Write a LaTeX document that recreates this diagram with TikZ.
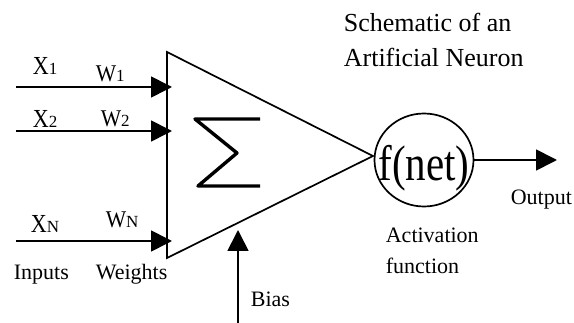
\documentclass[tikz,border=0pt]{standalone}
\usepackage{fontspec}
\setmainfont{Liberation Serif}
\usetikzlibrary{arrows.meta,shapes.geometric}
\newcommand\hsq[2]{\scalebox{#1}[1]{#2}}
\newcommand\labXW[3]{\hsq{#1}{\fontsize{#2}{#2}\selectfont #3}}
\begin{document}
\begin{tikzpicture}[x=1pt,y=-1pt, line width=1.7pt,
  arr/.style={-{Triangle[length=21pt,width=21pt]}},
  lbl/.style={inner sep=0pt, anchor=base west, font=\fontsize{22}{24}\selectfont},
  sym/.style={inner sep=0pt, anchor=base west},
  ttl/.style={inner sep=0pt, anchor=base west, font=\fontsize{26}{28}\selectfont}]
\useasboundingbox (0,0) rectangle (574,323);
% summing triangle
\coordinate (tl) at (167,52);
\coordinate (bl) at (167,258);
\coordinate (tip) at (373,156);
\draw[line join=miter] (tl) -- (bl) -- (tip) -- cycle;
% sigma
\coordinate (s1) at (260,119);
\coordinate (s2) at (195,119);
\coordinate (s3) at (237,153);
\coordinate (s4) at (198,186);
\coordinate (s5) at (260,186);
\draw[line width=3.4pt, line join=round] (s1) -- (s2) -- (s3) -- (s4) -- (s5);
% inputs
\coordinate (x1s) at (16,87);  \coordinate (x1e) at (172,87);
\coordinate (x2s) at (16,131); \coordinate (x2e) at (172,131);
\coordinate (xns) at (16,241); \coordinate (xne) at (172,241);
\draw[arr] (x1s) -- (x1e);
\draw[arr] (x2s) -- (x2e);
\draw[arr] (xns) -- (xne);
% bias
\coordinate (bs) at (238,323);
\coordinate (be) at (238,230);
\draw[arr] (bs) -- (be);
% activation
\node[draw, ellipse, minimum width=99pt, minimum height=93pt, inner sep=0pt] (act) at (424,160) {};
\node[sym, anchor=base] (fnet) at (424,181) {\hsq{0.82}{\fontsize{50}{52}\selectfont f(net)}};
\coordinate (oe) at (557,160);
\draw[arr] (act.east) -- (oe);
% labels
\node[sym] (lx1) at (32,75) {\labXW{0.85}{26}{X}{\fontsize{17}{17}\selectfont 1}};
\node[sym] (lw1) at (95,82) {\labXW{0.9}{24}{W}{\fontsize{17}{17}\selectfont 1}};
\node[sym] (lx2) at (32,128) {\labXW{0.85}{26}{X}{\fontsize{17}{17}\selectfont 2}};
\node[sym] (lw2) at (100,127) {\labXW{0.9}{24}{W}{\fontsize{17}{17}\selectfont 2}};
\node[sym] (lxn) at (30,233) {\labXW{0.85}{26}{X}{\fontsize{17}{17}\selectfont N}};
\node[sym] (lwn) at (105,228) {\labXW{0.9}{24}{W}{\fontsize{17}{17}\selectfont N}};
\node[lbl] (inp) at (13,280) {Inputs};
\node[lbl] (wts) at (95,280) {Weights};
\node[lbl] (bias) at (250,307) {Bias};
\node[lbl] (out) at (510,205) {Output};
\node[lbl] (actl1) at (385,243) {Activation};
\node[lbl] (actl2) at (385,274) {function};
\node[ttl] (t1) at (343,32) {Schematic of an};
\node[ttl] (t2) at (343,67) {Artificial Neuron};
\end{tikzpicture}
\end{document}
